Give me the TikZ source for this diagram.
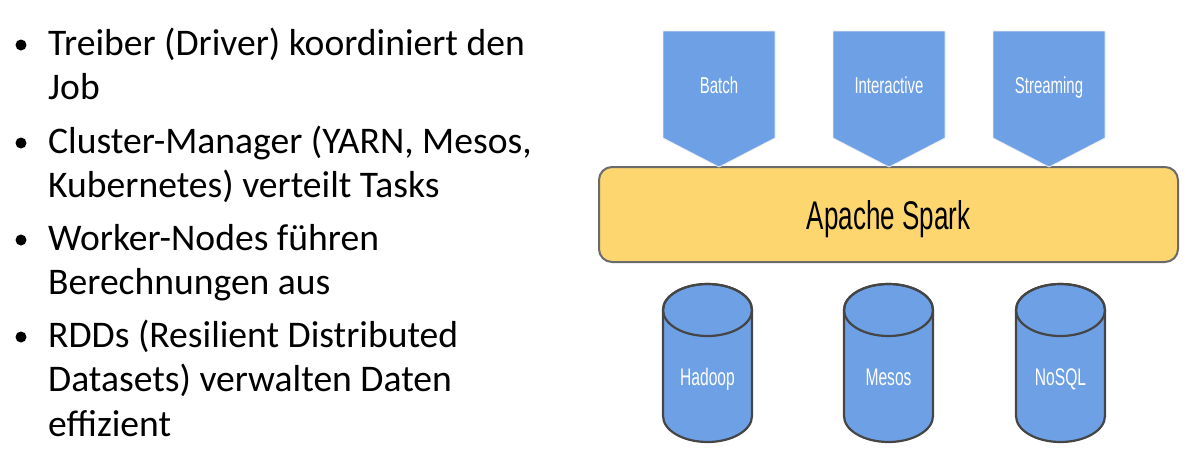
\documentclass[tikz,border=0pt]{standalone}
\usepackage{fontspec}
\setmainfont{Carlito}
\newfontfamily\narrowsans[FakeStretch=0.65]{Liberation Sans}
\definecolor{sparkblue}{HTML}{6EA0E6}
\definecolor{sparkyellow}{HTML}{FDD670}
\definecolor{rimgray}{HTML}{454545}
\tikzset{
  bullettext/.style={anchor=base west, align=left, inner sep=0pt, font=\fontsize{37.6}{44.5}\selectfont},
  usecase/.style={fill=sparkblue, draw=white!93!black, line width=.8pt},
  sparkbox/.style={draw=rimgray!80, line width=2pt, fill=sparkyellow, rounded corners=13pt,
    minimum width=579, minimum height=95},
  store/.style={fill=sparkblue, draw=rimgray, line width=2.2pt},
  whitetext/.style={anchor=base, text=white, inner sep=0pt, font=\narrowsans\fontsize{#1}{28}\selectfont},
  whitetext/.default=23
}
\begin{document}
\begin{tikzpicture}[x=1pt, y=-1pt, line join=round]
\useasboundingbox (0,0) rectangle (1197,469);
\foreach \y/\k/\n/\txt in {55/2/driver/{Treiber (Driver) koordiniert den\\Job},
  153/2/manager/{Cluster-Manager (YARN, Mesos,\\Kubernetes) verteilt Tasks},
  250/2/worker/{Worker-Nodes führen\\Berechnungen aus},
  347/3/rdd/{RDDs (Resilient Distributed\\Datasets) verwalten Daten\\effizient}}
{
  \node[bullettext] (\n) at (48,\y+\k*44.5-44.5) {\txt};
  \fill (21,\y-10) circle(5.5);
}
\node[sparkbox] (spark) at (888.5,214.5) {};
\node[anchor=base, inner sep=0pt, font=\narrowsans\fontsize{40}{48}\selectfont] (sparktext) at (888.5,229) {Apache Spark};
\foreach \x/\n/\txt in {719/batch/Batch, 889/interactive/Interactive, 1049/streaming/Streaming}
{
  \draw[usecase] (\x-56,31) -- (\x+56,31) -- (\x+56,138) -- (\x,167) -- (\x-56,138) -- cycle;
  \node[whitetext] (\n) at (\x,93) {\txt};
}
\foreach \x/\n/\txt in {707.5/hadoop/Hadoop, 888.5/mesos/Mesos, 1060.5/nosql/NoSQL}
{
  \filldraw[store] (\x-44.5,310) -- (\x-44.5,416) arc[start angle=180, end angle=0, x radius=44.5, y radius=26]
    -- (\x+44.5,310) arc[start angle=0, end angle=-180, x radius=44.5, y radius=26] -- cycle;
  \draw[store, fill=none] (\x,310) ellipse[x radius=44.5, y radius=26];
  \node[whitetext=24] (\n) at (\x,385) {\txt};
}
\end{tikzpicture}
\end{document}
